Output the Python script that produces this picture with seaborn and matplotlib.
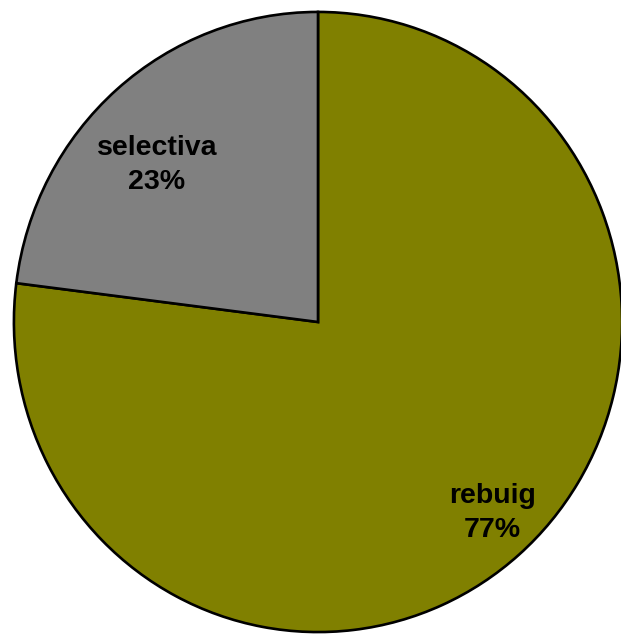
import matplotlib
matplotlib.use("Agg")
import matplotlib.pyplot as plt
import seaborn as sns

labels = ["rebuig", "selectiva"]
values = [77, 23]
colors = ["#808000", "#808080"]

sns.set_style("white")
plt.rcParams['font.family'] = ['Liberation Sans', 'DejaVu Sans']

W, H = 621, 636
fig = plt.figure(figsize=(W / 100, H / 100), dpi=100)
cx, cy, rx, ry = 318, 322, 305, 311
ax = fig.add_axes([(cx - rx) / W, (H - cy - ry) / H, 2 * rx / W, 2 * ry / H])
wedges, _ = ax.pie(values, colors=colors, startangle=90, counterclock=False,
                   wedgeprops=dict(edgecolor="black", linewidth=1.9),
                   radius=1.0)
ax.set_xlim(-1.003, 1.003)
ax.set_ylim(-1.003, 1.003)
ax.set_aspect("auto")
ax.axis("off")

def px(x, y):
    return ((x - cx) / rx, (cy - y) / ry)

pos = {"selectiva": px(156.5, 165), "rebuig": px(493, 514)}
for lab, v in zip(labels, values):
    x, y = pos[lab]
    ax.text(x, y, f"{lab}\n{v}%", ha="center", va="center", fontsize=20.5,
            fontweight="bold", linespacing=1.4, color="black")

fig.savefig("out.png", dpi=100)
